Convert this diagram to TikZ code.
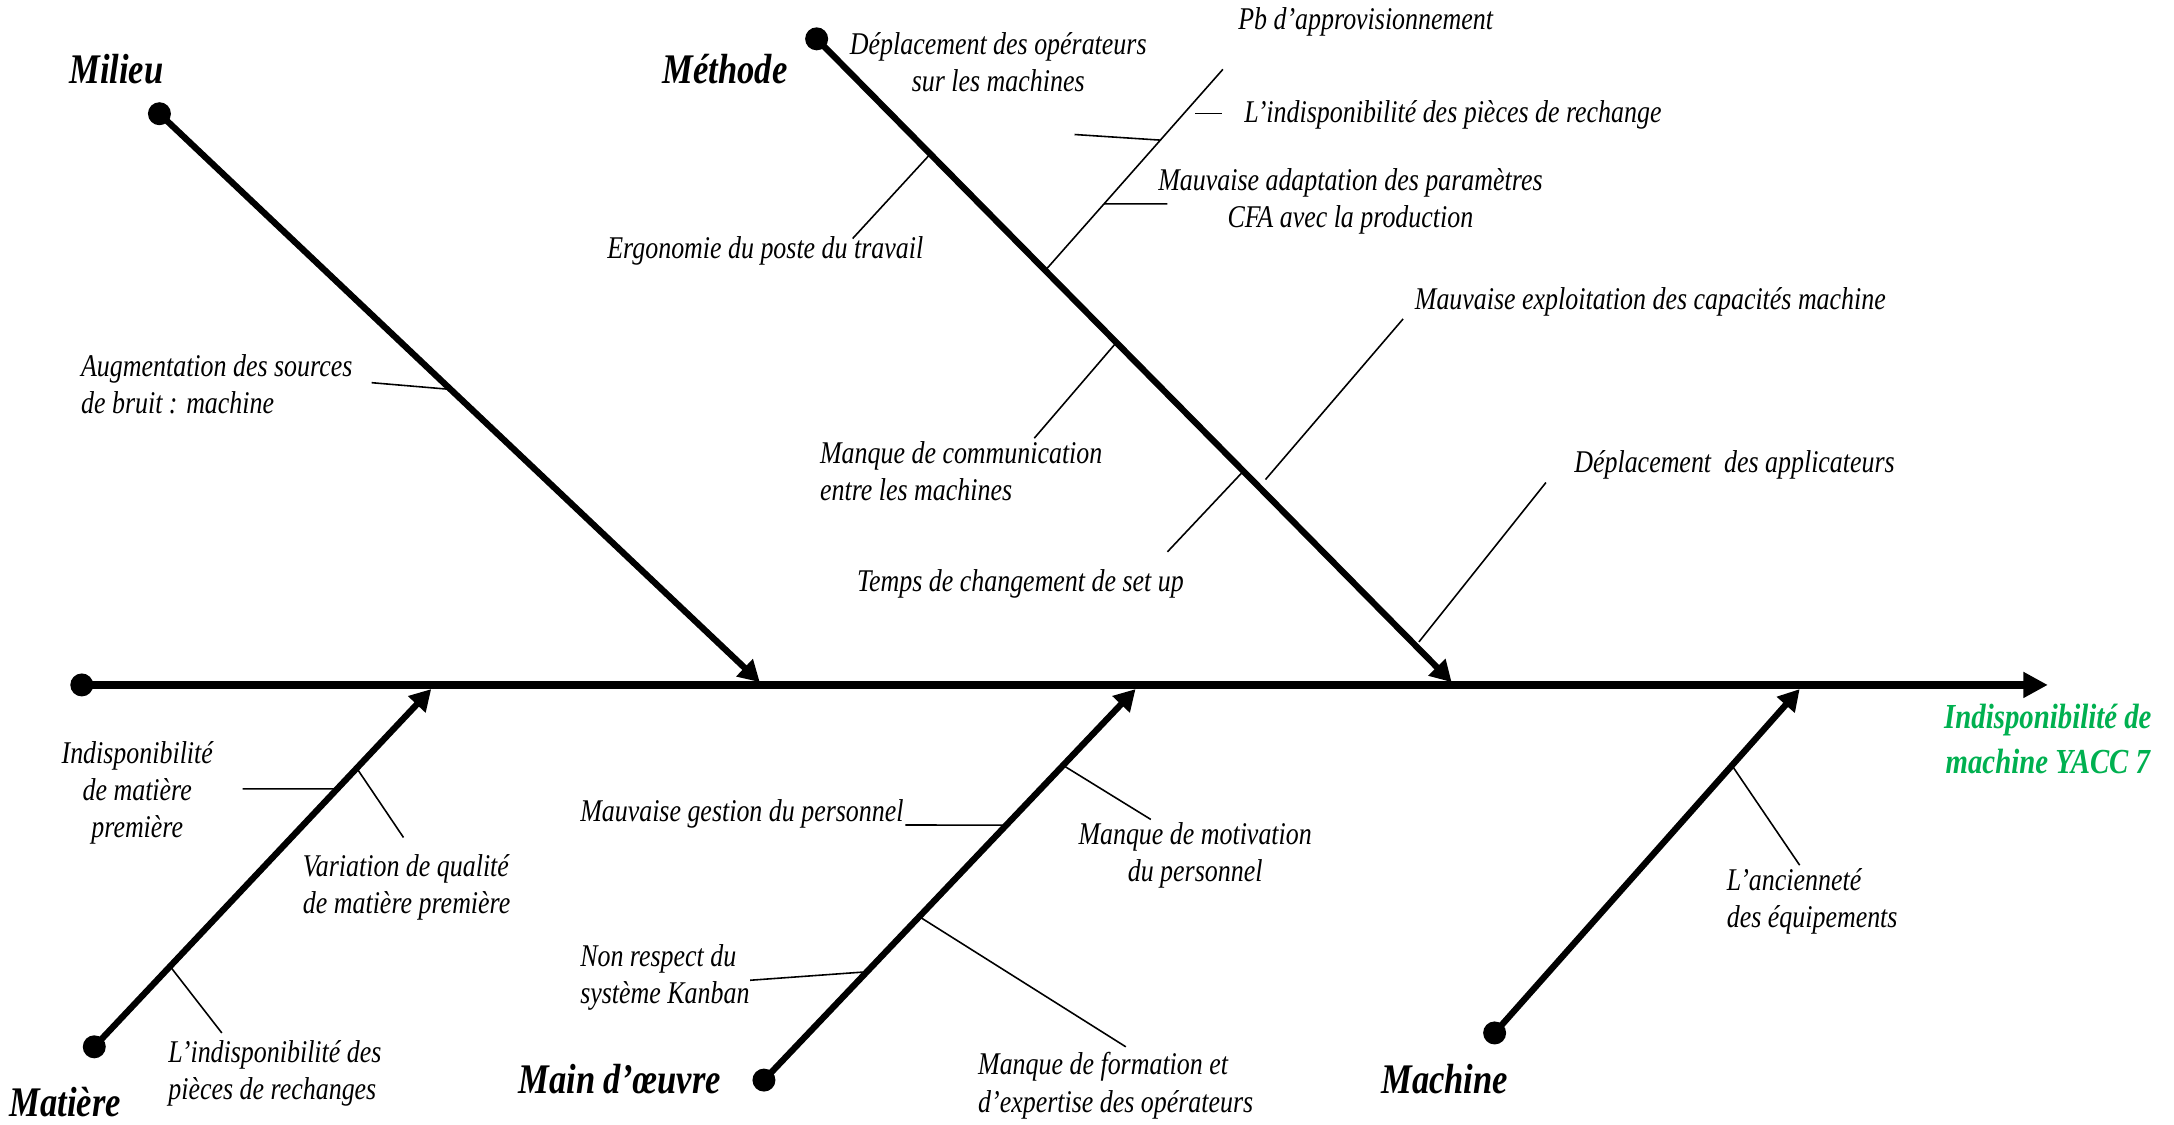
\documentclass[tikz,border=0pt]{standalone}
\usepackage{fontspec}
\setmainfont[FakeStretch=0.82]{Liberation Serif}
\usetikzlibrary{arrows.meta,calc,shapes.geometric}
\definecolor{effgreen}{RGB}{0,176,80}
\tikzset{
  spine/.style={line width=2.1pt,-{Triangle[length=7pt,width=7pt]}},
  bone/.style={line width=1.8pt,-{Triangle[length=6pt,width=6.5pt]}},
  sub/.style={line width=0.45pt},
  dotnode/.style={circle,fill=black,minimum size=0.23cm,inner sep=0pt},
  cat/.style={font=\bfseries\itshape\fontsize{12}{14}\selectfont,inner sep=0pt},
  txt/.style={font=\itshape\fontsize{9}{10.6}\selectfont,inner sep=0pt,align=left},
  txtc/.style={txt,align=center},
  effect/.style={font=\bfseries\itshape\fontsize{10}{12.6}\selectfont,text=effgreen,align=center,inner sep=0pt}
}
\begin{document}
\begin{tikzpicture}[x=0.013865cm,y=-0.013865cm]
\useasboundingbox (0,0) rectangle (1568,811);
% spine
\node[dotnode] (sD) at (59,494) {};
\coordinate (sT) at (1477,494);
\draw[spine] (sD.center) -- (sT);
\node[effect] (eff) at (1477,533) {Indisponibilité de\\machine YACC 7};
% bone endpoints
\node[dotnode] (miD) at (115,82) {};   \coordinate (miT) at (548,492);
\node[dotnode] (meD) at (589,28) {};   \coordinate (meT) at (1047,492);
\node[dotnode] (maD) at (68,755) {};   \coordinate (maT) at (311,497);
\node[dotnode] (moD) at (551,779) {};  \coordinate (moT) at (819,497);
\node[dotnode] (mcD) at (1078,745) {}; \coordinate (mcT) at (1298,497);
\draw[bone] (miD.center) -- (miT);
\draw[bone] (meD.center) -- (meT);
\draw[bone] (maD.center) -- (maT);
\draw[bone] (moD.center) -- (moT);
\draw[bone] (mcD.center) -- (mcT);
% category labels
\node[cat] (miL) at (84,50) {Milieu};
\node[cat] (meL) at (523,50) {Méthode};
\node[cat] (maL) at (47,795) {Matière};
\node[cat] (moL) at (447,778) {Main d’œuvre};
\node[cat] (mcL) at (1042,778) {Machine};
% ---- Milieu
\node[txt,anchor=west] (t1) at (58,277) {Augmentation des sources\\de bruit : machine};
\coordinate (c1) at (268,276);
\draw[sub] (c1) -- ($(miD)!0.485!(miT)$);
% ---- Methode
\node[txtc] (t2) at (720,45) {Déplacement des opérateurs\\sur les machines};
\node[txt] (t3) at (985,16) {Pb d’approvisionnement};
\node[txt,anchor=west] (t4) at (897,83) {L’indisponibilité des pièces de rechange};
\node[txtc] (t5) at (974,145) {Mauvaise adaptation des paramètres\\CFA avec la production};
\node[txt] (t6) at (552,181) {Ergonomie du poste du travail};
\node[txt,anchor=west] (t7) at (591,340) {Manque de communication\\entre les machines};
\node[txt,anchor=west] (t8) at (1020,218) {Mauvaise exploitation des capacités machine};
\node[txt,anchor=west] (t9) at (1135,335) {Déplacement~ des applicateurs};
\node[txt] (t10) at (736,421) {Temps de changement de set up};
\coordinate (pbB) at ($(meD)!0.36!(meT)$);
\coordinate (pbT) at (882,50);
\draw[sub] (pbB) -- (pbT);
\coordinate (c2) at (775,97);
\draw[sub] (c2) -- ($(pbB)!0.648!(pbT)$);
\coordinate (c4) at (862,82);
\draw[sub] (c4) -- ++(19,0);
\coordinate (c5) at (842,147);
\draw[sub] (c5) -- ($(pbB)!0.331!(pbT)$);
\coordinate (c6) at (615,172);
\draw[sub] (c6) -- ($(meD)!0.179!(meT)$);
\coordinate (c7) at (746,316);
\draw[sub] (c7) -- ($(meD)!0.472!(meT)$);
\coordinate (c8) at (1012,230);
\draw[sub] (c8) -- ($(meD)!0.685!(meT)+(10,0)$);
\coordinate (c10) at (842,398);
\draw[sub] (c10) -- ($(meD)!0.672!(meT)$);
\coordinate (c9) at (1115,348);
\draw[sub] (c9) -- ($(meD)!0.9375!(meT)+(5,0)$);
% ---- Matiere
\node[txtc] (t11) at (99,572) {Indisponibilité\\de matière\\première};
\node[txt,anchor=west] (t12) at (218,640) {Variation de qualité\\de matière première};
\node[txt,anchor=west] (t13) at (121,774) {L’indisponibilité des\\pièces de rechanges};
\coordinate (c11) at (175,569);
\draw[sub] (c11) -- ($(maD)!0.721!(maT)$);
\coordinate (c12) at (291,604);
\draw[sub] (c12) -- ($(maD)!0.779!(maT)$);
\coordinate (c13) at (160,745);
\draw[sub] (c13) -- ($(maD)!0.225!(maT)$);
% ---- Main d'oeuvre
\node[txt,anchor=west] (t14) at (418,587) {Mauvaise gestion du personnel};
\node[txtc] (t15) at (862,617) {Manque de motivation\\du personnel};
\node[txt,anchor=west] (t16) at (418,705) {Non respect du\\système Kanban};
\node[txt,anchor=west] (t17) at (705,783) {Manque de formation et\\d’expertise des opérateurs};
\coordinate (c14) at (653,595);
\draw[sub] (c14) -- ($(moD)!0.652!(moT)$);
\coordinate (c15) at (830,591);
\draw[sub] (c15) -- ($(moD)!0.805!(moT)$);
\coordinate (c16) at (541,707);
\draw[sub] (c16) -- ($(moD)!0.277!(moT)$);
\coordinate (c17) at (812,755);
\draw[sub] (c17) -- ($(moD)!0.418!(moT)$);
% ---- Machine
\node[txt,anchor=west] (t18) at (1245,650) {L’ancienneté\\des équipements};
\coordinate (c18) at (1298,624);
\draw[sub] (c18) -- ($(mcD)!0.778!(mcT)$);
\end{tikzpicture}
\end{document}
